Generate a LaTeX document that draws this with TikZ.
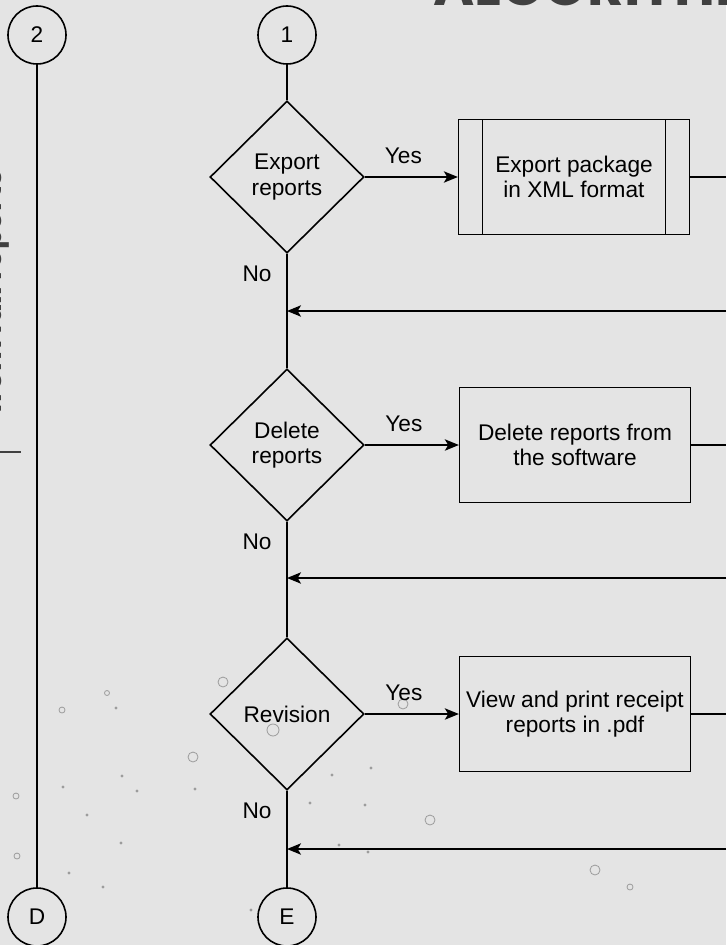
\documentclass[tikz,border=0pt]{standalone}
\usepackage{fontspec}
\setmainfont{Liberation Sans}
\newfontfamily\headfont{Poppins}
\usetikzlibrary{shapes.geometric,arrows.meta}
\definecolor{bgcol}{HTML}{E4E4E4}
\definecolor{headcol}{HTML}{404040}
\definecolor{dotcol}{HTML}{9C9C9C}
\tikzset{
	flow/.style={line width=1.2pt},
	arr/.style={flow, -{Stealth[length=10.5pt,width=8.5pt,inset=2.5pt]}},
	txt/.style={font=\fontsize{17}{19}\selectfont},
	decision/.style={
		diamond,
		draw,
		flow,
		inner sep=0pt,
		minimum width=115.5pt,
		minimum height=114pt,
		align=center,
		txt},
	process/.style={
		rectangle,
		draw,
		flow,
		minimum width=173pt,
		minimum height=86pt,
		align=center,
		txt},
	predef/.style={process,
		path picture={
			\draw[flow] ([xshift=18pt]path picture bounding box.north west) -- ([xshift=18pt]path picture bounding box.south west);
			\draw[flow] ([xshift=-18pt]path picture bounding box.north east) -- ([xshift=-18pt]path picture bounding box.south east);}},
	connector/.style={circle, draw, flow, minimum size=43.5pt, inner sep=0pt, txt},
	lbl/.style={txt, inner sep=0pt},
	yeslbl/.style={lbl, above=9pt, xshift=-6pt},
	nolbl/.style={lbl, pos=.35, left=11pt},
	bubble/.style={draw=dotcol, line width=0.6pt},
	speck/.style={fill=dotcol}
}

\begin{document}
\begin{tikzpicture}[x=0.75pt,y=-0.75pt]
	\fill[bgcol] (0,0) rectangle (726,945);
	\useasboundingbox (0,0) rectangle (726,945);
	\clip (0,0) rectangle (726,945);

	% background bubbles
	\foreach \x/\y/\r in {223/682/5, 62/710/3, 107/693/2.5, 193/757/5, 273/730/6, 16/796/3, 17/856/3, 403/704/5, 430/820/5, 595/870/5, 630/887/3}
		\draw[bubble] (\x,\y) circle (\r);
	\foreach \x/\y in {116/708, 122/776, 63/787, 137/791, 87/815, 121/843, 69/873, 103/887, 195/789, 251/910, 332/775, 371/768, 310/803, 365/805, 339/845, 368/852}
		\fill[speck] (\x,\y) circle (1.6);

	% cut title and lane label
	\node[anchor=base west, inner sep=0pt, text=headcol, font=\headfont\bfseries\fontsize{42}{46}\selectfont] (title) at (433,6) {ALGORITHM};
	\node[rotate=90, anchor=base, inner sep=0pt, text=headcol, font=\headfont\bfseries\fontsize{22}{26}\selectfont] (lane) at (2,292) {from full reports};
	\draw[headcol, line width=0.8pt] (0,452) -- (21,452);

	% left lane
	\node [connector] (c2) at (37,35) {2};
	\node [connector] (cD) at (37,917) {D};
	\draw[flow] (c2) -- (cD);

	% main lane
	\node [connector] (c1) at (287,35) {1};
	\node [decision] (export) at (287,177) {Export\\reports};
	\node [predef] (xml) at (574,177) {Export package\\in XML format};
	\node [decision] (delete) at (287,445) {Delete\\reports};
	\node [process] (remove) at (575,445) {Delete reports from\\the software};
	\node [decision] (revision) at (287,714) {Revision};
	\node [process] (pdf) at (575,714) {View and print receipt\\reports in .pdf};
	\node [connector] (cE) at (287,917) {E};

	\coordinate (out1) at (726,177);
	\coordinate (out2) at (726,445);
	\coordinate (out3) at (726,714);
	\coordinate (back1) at (726,311);
	\coordinate (back2) at (726,578);
	\coordinate (back3) at (726,849);
	\coordinate (join1) at (287,311);
	\coordinate (join2) at (287,578);
	\coordinate (join3) at (287,849);

	\draw[flow] (c1) -- (export);
	\draw[arr] (export) -- node[yeslbl] {Yes} (xml);
	\draw[flow] (xml) -- (out1);
	\draw[flow] (export) -- node[nolbl] {No} (join1) -- (delete);
	\draw[arr] (back1) -- (join1);

	\draw[arr] (delete) -- node[yeslbl] {Yes} (remove);
	\draw[flow] (remove) -- (out2);
	\draw[flow] (delete) -- node[nolbl] {No} (join2) -- (revision);
	\draw[arr] (back2) -- (join2);

	\draw[arr] (revision) -- node[yeslbl] {Yes} (pdf);
	\draw[flow] (pdf) -- (out3);
	\draw[flow] (revision) -- node[nolbl] {No} (join3) -- (cE);
	\draw[arr] (back3) -- (join3);
\end{tikzpicture}
\end{document}
